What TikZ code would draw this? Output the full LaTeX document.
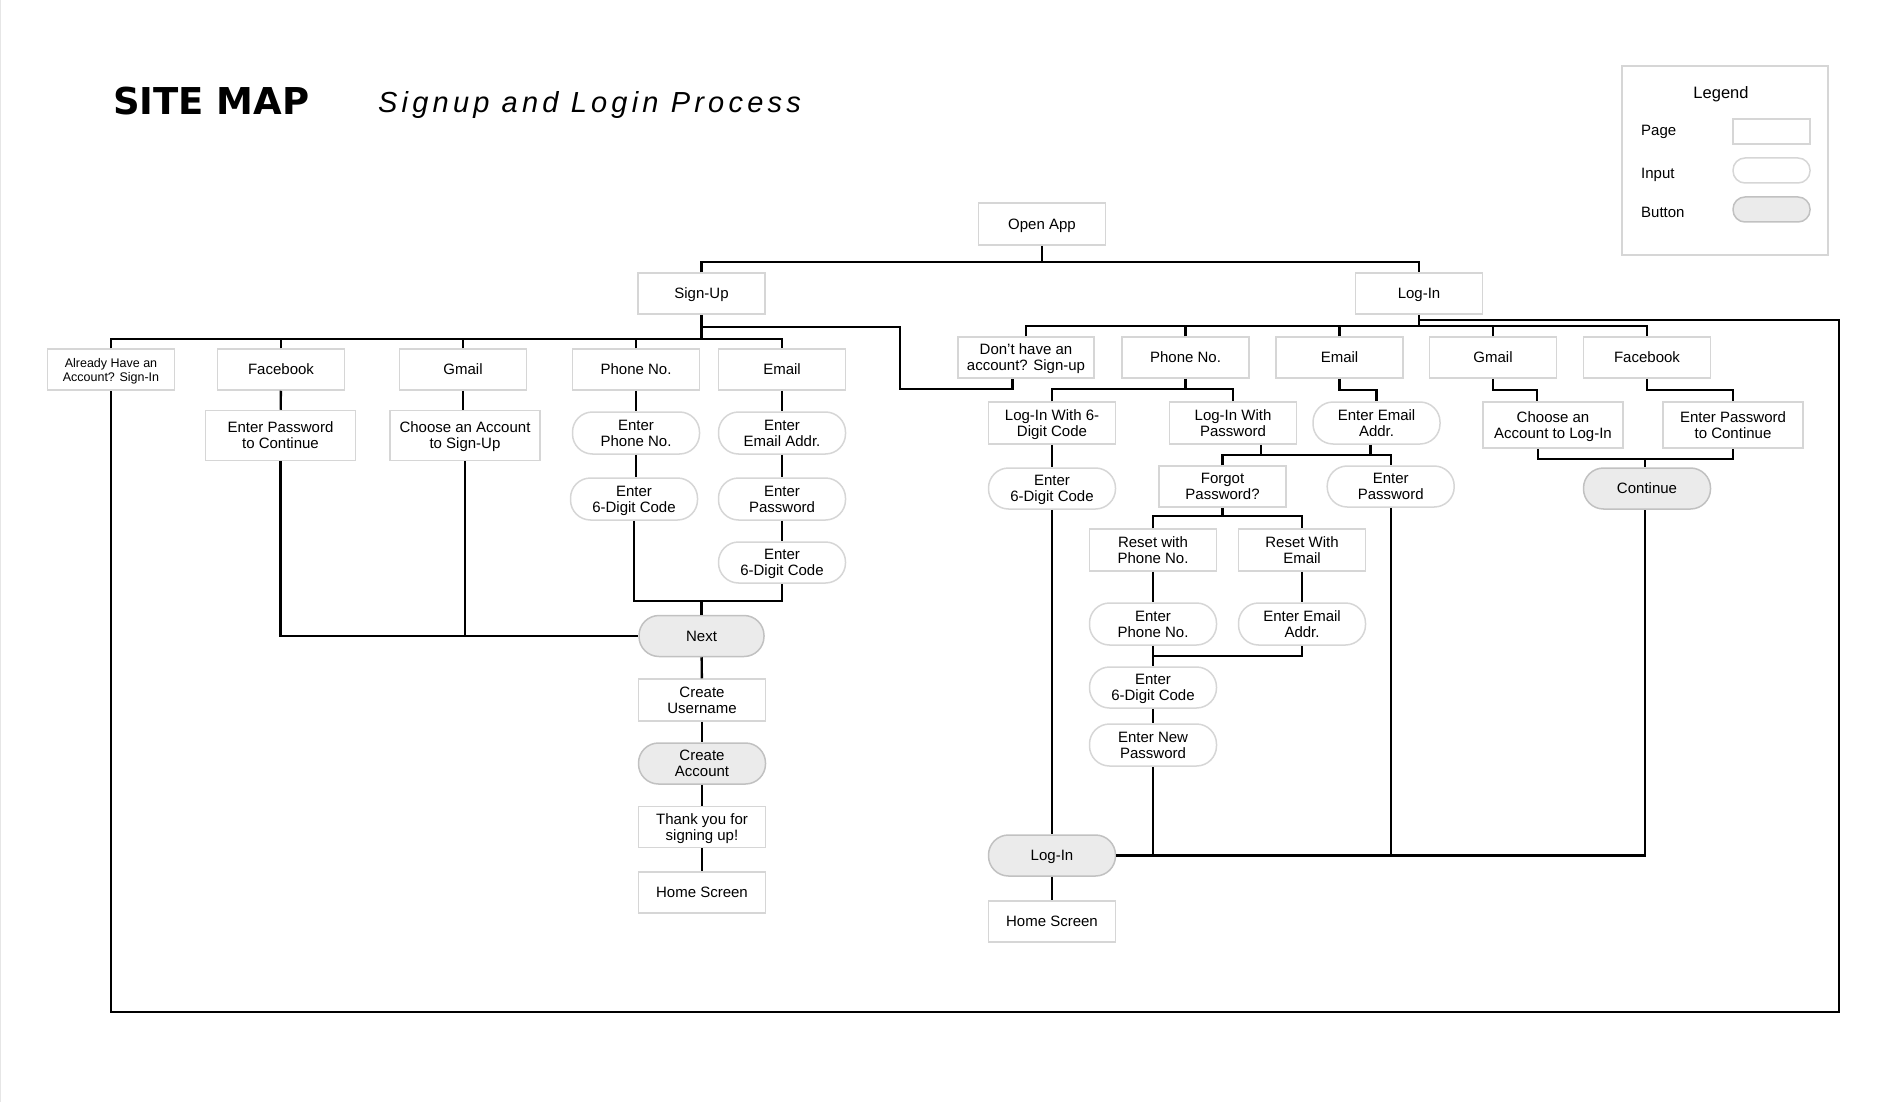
\documentclass[tikz,border=0pt]{standalone}
\usepackage{fontspec}
\setmainfont{Liberation Sans}
\newfontfamily\titlefont{DejaVu Sans}
\newfontfamily\subfont[LetterSpace=14.5]{Liberation Sans}
\usetikzlibrary{calc}

\definecolor{boxline}{HTML}{D6D6D6}
\definecolor{btnfill}{HTML}{EBEBEB}
\definecolor{edgegray}{HTML}{E6E6E6}

\tikzset{
	page/.style={draw=boxline, line width=1.5pt, fill=white, minimum width=127pt, minimum height=41pt, inner sep=2pt, text depth=-3pt, align=center, font=\fontsize{15}{16}\selectfont},
	input/.style={page, rounded corners=20pt},
	button/.style={input, fill=btnfill, draw=boxline!90!black},
	link/.style={line width=2.4pt, black},
	keylabel/.style={anchor=base west, inner sep=0pt, font=\fontsize{15}{16}\selectfont},
}

\begin{document}
\begin{tikzpicture}[x=1pt, y=-1pt]
			%%%%% START %%%%%
			\useasboundingbox (0,0) rectangle (1890,1102);
			\draw[edgegray, line width=1pt] (0.5,0) -- (0.5,1102);
			
			\node[anchor=base west, inner sep=0pt, font=\titlefont\bfseries\fontsize{37}{40}\selectfont] (title) at (113,115) {SITE MAP};
			\node[anchor=base west, inner sep=0pt, font=\subfont\itshape\fontsize{29}{32}\selectfont] (subtitle) at (378,113) {Signup and Login Process};
			
			% legend
			\node[draw=boxline, line width=1.5pt, minimum width=206pt, minimum height=189pt] (legend) at (1725,160.5) {};
			\node[anchor=base, inner sep=0pt, font=\fontsize{16.5}{18}\selectfont] (legendtitle) at (1721,99) {Legend};
			\node[keylabel] (pagelabel) at (1641,136) {Page};
			\node[keylabel] (inputlabel) at (1641,179) {Input};
			\node[keylabel] (buttonlabel) at (1641,218) {Button};
			\node[page, minimum width=77pt, minimum height=25pt] (pagekey) at (1771.5,131.5) {};
			\node[input, rounded corners=12pt, minimum width=77pt, minimum height=25pt] (inputkey) at (1771.5,170.5) {};
			\node[button, rounded corners=12pt, minimum width=77pt, minimum height=25pt] (buttonkey) at (1771.5,209.5) {};
			
			% top
			\node[page, minimum height=42pt] (open) at (1042,224) {Open App};
			\node[page] (signup) at (701.5,293.5) {Sign-Up};
			\node[page] (login) at (1419,293.5) {Log-In};
			\coordinate (topbus) at (1042,262);
			\draw[link] (open.south) -- (topbus);
			\draw[link] (signup.north) |- (topbus) -| (login.north);
			
			% sign-up branch
			\node[page, font=\fontsize{12.5}{14}\selectfont] (already) at (111,369.5) {Already Have an\\Account? Sign-In};
			\node[page] (sufb) at (281,369.5) {Facebook};
			\node[page] (sugm) at (463,369.5) {Gmail};
			\node[page] (suph) at (636,369.5) {Phone No.};
			\node[page] (suem) at (782,369.5) {Email};
			
			\node[page, minimum width=150pt, minimum height=50pt] (sufbpwd) at (280.5,435.5) {Enter Password\\to Continue};
			\node[page, minimum width=150pt, minimum height=50pt] (sugmacc) at (465,435.5) {Choose an Account\\to Sign-Up};
			\node[input, minimum height=42pt] (suphin) at (636,433) {Enter\\Phone No.};
			\node[input, minimum height=42pt] (suphcode) at (634,499) {Enter\\6-Digit Code};
			\node[input, minimum height=42pt] (suemin) at (782,433) {Enter\\Email Addr.};
			\node[input, minimum height=42pt] (suempwd) at (782,499) {Enter\\Password};
			\node[input] (suemcode) at (782,562.5) {Enter\\6-Digit Code};
			
			\node[button, minimum width=125pt] (next) at (701.5,636) {Next};
			\node[page, minimum height=42pt] (username) at (702,700) {Create\\Username};
			\node[button] (create) at (702,763.5) {Create\\Account};
			\node[page] (thanks) at (702,827) {Thank you for\\signing up!};
			\node[page] (suhome) at (702,892.5) {Home Screen};
			
			\coordinate (subus) at (701.5,339);
			\draw[link] (signup.south) -- (subus);
			\draw[link] (already.north) |- (subus) -| (suem.north);
			\draw[link] (sufb.north) -- (sufb.north |- subus);
			\draw[link] (sugm.north) -- (sugm.north |- subus);
			\draw[link] (suph.north) -- (suph.north |- subus);
			
			\draw[link] (sufb) -- (sufbpwd);
			\draw[link] (sugm.south) -- (sugmacc.north -| sugm.south);
			\draw[link] (suph) -- (suphin);
			\draw[link] (suphin.south) -- (suphcode.north -| suphin.south);
			\draw[link] (suem) -- (suemin);
			\draw[link] (suemin) -- (suempwd);
			\draw[link] (suempwd) -- (suemcode);
			
			\coordinate (sujoin) at (701.5,601);
			\draw[link] (suphcode.south) |- (sujoin) -| (suemcode.south);
			\draw[link] (sujoin) -- (next.north);
			\draw[link] (sufbpwd.south) |- (next.west);
			\draw[link] (sugmacc.south) -- (sugmacc.south |- next.west);
			
			\draw[link] (next) -- (username);
			\draw[link] (username) -- (create);
			\draw[link] (create) -- (thanks);
			\draw[link] (thanks) -- (suhome);
			
			% log-in branch
			\node[page, minimum width=136pt] (dont) at (1026,357.5) {Don’t have an\\account? Sign-up};
			\node[page] (liph) at (1185.5,357.5) {Phone No.};
			\node[page] (liem) at (1339.5,357.5) {Email};
			\node[page] (ligm) at (1493,357.5) {Gmail};
			\node[page] (lifb) at (1647,357.5) {Facebook};
			
			\coordinate (libus) at (1419,326);
			\draw[link] (login.south) -- (libus);
			\draw[link] (dont.north) |- (libus) -| (lifb.north);
			\draw[link] (liph.north) -- (liph.north |- libus);
			\draw[link] (liem.north) -- (liem.north |- libus);
			\draw[link] (ligm.north) -- (ligm.north |- libus);
			
			% cross links
			\draw[link] (signup.south) ++(0,12) -| (900,389) -| ([xshift=-13.5pt]dont.south);
			\draw[link] (login.south) ++(0,5) -| (1839,1012) -| (already.south);
			
			\node[page, minimum height=42pt] (li6) at (1052,423) {Log-In With 6-\\Digit Code};
			\node[page, minimum height=42pt] (lipwd) at (1233,423) {Log-In With\\Password};
			\node[input, minimum height=42pt] (liemin) at (1376.5,423) {Enter Email\\Addr.};
			\node[page, minimum width=140pt, minimum height=46pt] (ligmacc) at (1553,425) {Choose an\\Account to Log-In};
			\node[page, minimum width=140pt, minimum height=46pt] (lifbpwd) at (1733,425) {Enter Password\\to Continue};
			
			\coordinate (liphbus) at (1185.5,389);
			\draw[link] (liph.south) -- (liphbus);
			\draw[link] (li6.north) |- (liphbus) -| (lipwd.north);
			\draw[link] (liem.south) -- ++(0,11) -| (liemin.north);
			\draw[link] (ligm.south) -- ++(0,11) -| ([xshift=-16pt]ligmacc.north);
			\draw[link] (lifb.south) -- ++(0,11) -| (lifbpwd.north);
			
			\node[input] (li6code) at (1052,488.5) {Enter\\6-Digit Code};
			\node[page] (forgot) at (1222.5,486.5) {Forgot\\Password?};
			\node[input] (liempwd) at (1390.7,486.5) {Enter\\Password};
			\node[button] (continue) at (1647,488.5) {Continue};
			
			\draw[link] (li6) -- (li6code);
			\coordinate (pwdbus) at (1300,455);
			\draw[link] (forgot.north) |- (pwdbus) -| (liempwd.north);
			\draw[link] ([xshift=28pt]lipwd.south) -- ([xshift=28pt]lipwd.south |- pwdbus);
			\draw[link] ([xshift=-6pt]liemin.south) -- ([xshift=-6pt]liemin.south |- pwdbus);
			\coordinate (contjoin) at (1645,459);
			\draw[link] ([xshift=-15pt]ligmacc.south) |- (contjoin) -| (lifbpwd.south);
			\draw[link] (contjoin) -- (continue.north -| contjoin);
			
			% forgot password
			\node[page, minimum height=42pt] (resetph) at (1153,550) {Reset with\\Phone No.};
			\node[page, minimum height=42pt] (resetem) at (1302,550) {Reset With\\Email};
			\node[input, minimum height=42pt] (resetphin) at (1153,624) {Enter\\Phone No.};
			\node[input, minimum height=42pt] (resetemin) at (1302,624) {Enter Email\\Addr.};
			\node[input] (resetcode) at (1153,687.5) {Enter\\6-Digit Code};
			\node[input, minimum height=42pt] (newpwd) at (1153,745) {Enter New\\Password};
			
			\coordinate (resetbus) at (1222.5,516);
			\draw[link] (forgot.south) -- (resetbus);
			\draw[link] (resetph.north) |- (resetbus) -| (resetem.north);
			\draw[link] (resetph) -- (resetphin);
			\draw[link] (resetem) -- (resetemin);
			\coordinate (resetjoin) at (1153,656);
			\draw[link] (resetphin.south) -- (resetjoin);
			\draw[link] (resetjoin) -| (resetemin.south);
			\draw[link] (resetjoin) -- (resetcode.north);
			\draw[link] (resetcode) -- (newpwd);
			
			% log-in button
			\node[button] (libtn) at (1052,855.5) {Log-In};
			\node[page] (lihome) at (1052,921.5) {Home Screen};
			
			\draw[link] (li6code) -- (libtn);
			\draw[link] (libtn.east) -| (continue.south -| contjoin);
			\draw[link] (newpwd.south) -- (newpwd.south |- libtn.east);
			\draw[link] (liempwd.south) -- (liempwd.south |- libtn.east);
			\draw[link] (libtn) -- (lihome);
			
			%%%%% END %%%%%
\end{tikzpicture}
\end{document}
